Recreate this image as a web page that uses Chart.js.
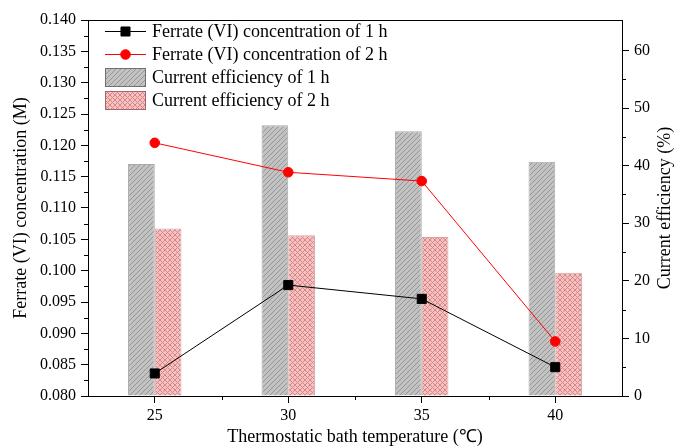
<!DOCTYPE html>
<html>
<head>
<meta charset="utf-8">
<script src="https://cdn.jsdelivr.net/npm/chart.js@4"></script>
<style>
  html, body { margin: 0; padding: 0; background: #fff; }
  #wrap { width: 681px; height: 448px; }
</style>
</head>
<body>
<div id="wrap"><canvas id="chart" width="681" height="448"></canvas></div>
<script>
// temperatures (°C) along the x axis
const temps = ['25', '30', '35', '40'];

// ferrate (VI) concentration, M (left axis)
const ferrate1h = [0.0836, 0.0977, 0.0955, 0.0846];
const ferrate2h = [0.1204, 0.1157, 0.1143, 0.0887];

// current efficiency, % (right axis)
const eff1h = [40.3, 47.0, 46.0, 40.7];
const eff2h = [29.1, 27.9, 27.6, 21.4];

// axis ranges
const concMin = 0.080, concMax = 0.140, concStep = 0.005;
const effMin = 0, effMax = 65.3, effStep = 10;

const canvas = document.getElementById('chart');
const ctx = canvas.getContext('2d');

// small repeating tiles for the hatched bars
function hatch(bg, fg, s, cross) {
    const tile = document.createElement('canvas');
    tile.width = tile.height = s;
    const g = tile.getContext('2d');
    g.fillStyle = bg;
    g.fillRect(0, 0, s, s);
    g.strokeStyle = fg;
    g.lineWidth = 1;
    g.beginPath();
    g.moveTo(-1, s + 1); g.lineTo(s + 1, -1);
    g.moveTo(-1, 1); g.lineTo(1, -1);
    g.moveTo(s - 1, s + 1); g.lineTo(s + 1, s - 1);
    if (cross) {
        g.moveTo(-1, -1); g.lineTo(s + 1, s + 1);
        g.moveTo(-1, s - 1); g.lineTo(1, s + 1);
        g.moveTo(s - 1, -1); g.lineTo(s + 1, 1);
    }
    g.stroke();
    return ctx.createPattern(tile, 'repeat');
}

const grayHatch = hatch('#c2c2c2', '#969696', 5, false);
const pinkHatch = hatch('#ffbdbd', '#c78e8e', 5, true);

Chart.defaults.font.family = '"Liberation Serif", "Times New Roman", serif';
Chart.defaults.font.size = 16;
Chart.defaults.color = '#000';

// minor ticks, top frame line, right-hand title and the inset legend
const decorations = {
    id: 'decorations',
    afterDraw(chart) {
        const c = chart.ctx;
        const area = chart.chartArea;
        const x = chart.scales.x, yl = chart.scales.y, yr = chart.scales.y1;
        c.save();
        c.strokeStyle = '#000';
        c.lineWidth = 1;
        c.beginPath();
        // frame top
        c.moveTo(area.left, Math.round(area.top) + 0.5);
        c.lineTo(area.right, Math.round(area.top) + 0.5);
        // left minor ticks
        for (let v = concMin + concStep / 2; v < concMax; v += concStep) {
            const py = Math.round(yl.getPixelForValue(v)) + 0.5;
            c.moveTo(yl.right - 4, py); c.lineTo(yl.right, py);
        }
        // right minor ticks
        for (let v = effMin + effStep / 2; v < 60; v += effStep) {
            const py = Math.round(yr.getPixelForValue(v)) + 0.5;
            c.moveTo(yr.left, py); c.lineTo(yr.left + 4, py);
        }
        // x minor ticks between categories
        for (let i = 0; i < temps.length - 1; i++) {
            const px = Math.round((x.getPixelForTick(i) + x.getPixelForTick(i + 1)) / 2) + 0.5;
            c.moveTo(px, x.top); c.lineTo(px, x.top + 4);
        }
        c.stroke();

        // right axis title, reading upward
        c.font = '18px "Liberation Serif", serif';
        c.fillStyle = '#000';
        c.textAlign = 'center';
        c.textBaseline = 'middle';
        c.translate(665, (area.top + area.bottom) / 2);
        c.rotate(-Math.PI / 2);
        c.fillText('Current efficiency (%)', 0, 0);
        c.restore();

        // legend inside the plot
        c.save();
        c.font = '18px "Liberation Serif", serif';
        c.textBaseline = 'middle';
        c.textAlign = 'left';
        const rows = [31, 54, 77, 100];
        chart.data.datasets.forEach((ds, i) => {
            const y = rows[i];
            if (ds.type === 'line') {
                c.strokeStyle = ds.borderColor;
                c.lineWidth = 1;
                c.beginPath();
                c.moveTo(105, y + 0.5); c.lineTo(146, y + 0.5);
                c.stroke();
                c.fillStyle = ds.pointBackgroundColor;
                c.strokeStyle = ds.pointBorderColor;
                Chart.helpers.drawPoint(c, {
                    pointStyle: ds.pointStyle, radius: ds.pointRadius, borderWidth: 1, rotation: 0
                }, 125.5, y + 0.5);
            } else {
                c.fillStyle = ds.backgroundColor;
                c.fillRect(105, y - 9, 41, 19);
                c.strokeStyle = ds.legendBorder;
                c.lineWidth = 1;
                c.strokeRect(105.5, y - 8.5, 40, 18);
            }
            c.fillStyle = '#000';
            c.fillText(ds.label, 152, y + 1);
        });
        c.restore();
    }
};

new Chart(ctx, {
    type: 'bar',
    data: {
        labels: temps,
        datasets: [
            {
                type: 'line',
                label: 'Ferrate (VI) concentration of 1 h',
                data: ferrate1h,
                yAxisID: 'y',
                borderColor: '#000000',
                borderWidth: 1,
                pointStyle: 'rect',
                pointRadius: 6.4,
                pointBackgroundColor: '#000000',
                pointBorderColor: '#000000',
                tension: 0,
                order: 1
            },
            {
                type: 'line',
                label: 'Ferrate (VI) concentration of 2 h',
                data: ferrate2h,
                yAxisID: 'y',
                borderColor: '#ff0000',
                borderWidth: 1,
                pointStyle: 'circle',
                pointRadius: 4.8,
                pointBackgroundColor: '#ff0000',
                pointBorderColor: '#ff0000',
                tension: 0,
                order: 1
            },
            {
                label: 'Current efficiency of 1 h',
                data: eff1h,
                yAxisID: 'y1',
                backgroundColor: grayHatch,
                borderColor: '#a8a8a8',
                legendBorder: '#707070',
                borderWidth: 1,
                categoryPercentage: 0.4,
                barPercentage: 1.0,
                order: 2
            },
            {
                label: 'Current efficiency of 2 h',
                data: eff2h,
                yAxisID: 'y1',
                backgroundColor: pinkHatch,
                borderColor: '#d0a8a8',
                legendBorder: '#a06868',
                borderWidth: 1,
                categoryPercentage: 0.4,
                barPercentage: 1.0,
                order: 2
            }
        ]
    },
    options: {
        responsive: false,
        animation: false,
        layout: { padding: { top: 20, left: 0, right: 0, bottom: 0 } },
        plugins: {
            legend: { display: false },
            tooltip: { enabled: false }
        },
        scales: {
            x: {
                type: 'category',
                offset: true,
                grid: {
                    offset: false,
                    drawOnChartArea: false,
                    drawTicks: true,
                    tickLength: 7,
                    color: '#000'
                },
                border: { display: true, color: '#000', width: 1 },
                ticks: { padding: 3, font: { size: 16 } },
                title: {
                    display: true,
                    text: 'Thermostatic bath temperature (℃)',
                    font: { size: 18 },
                    padding: { top: 0, bottom: 0 }
                },
                afterFit: (s) => { s.height = 52; }
            },
            y: {
                position: 'left',
                min: concMin,
                max: concMax,
                grid: {
                    drawOnChartArea: false,
                    drawTicks: true,
                    tickLength: 7,
                    color: '#000'
                },
                border: { display: true, color: '#000', width: 1 },
                ticks: {
                    stepSize: concStep,
                    padding: 5,
                    font: { size: 16 },
                    callback: (v) => v.toFixed(3)
                },
                title: {
                    display: true,
                    text: 'Ferrate (VI) concentration (M)',
                    font: { size: 18 },
                    padding: { top: 10, bottom: 0 }
                },
                afterFit: (s) => { s.width = 88; }
            },
            y1: {
                position: 'right',
                min: effMin,
                max: effMax,
                grid: {
                    drawOnChartArea: false,
                    drawTicks: true,
                    tickLength: 7,
                    color: '#000'
                },
                border: { display: true, color: '#000', width: 1 },
                ticks: {
                    stepSize: effStep,
                    includeBounds: false,
                    padding: 5,
                    font: { size: 16 }
                },
                afterFit: (s) => { s.width = 59; }
            }
        }
    },
    plugins: [decorations]
});
</script>
</body>
</html>
